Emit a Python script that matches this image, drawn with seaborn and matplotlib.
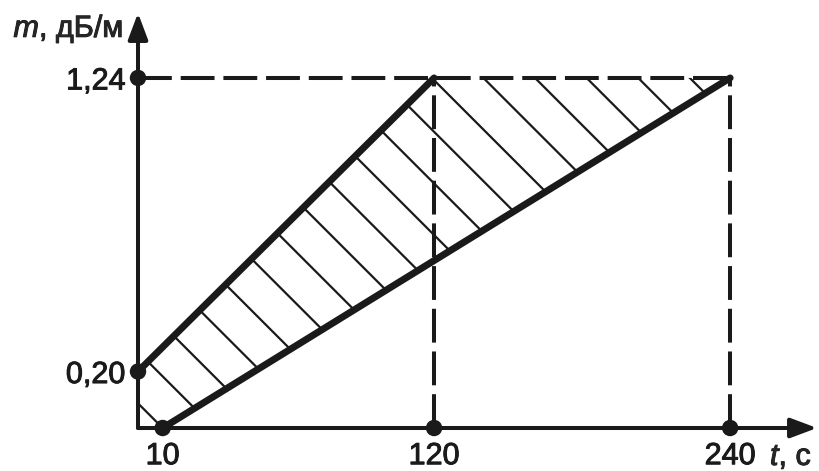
import numpy as np
import pandas as pd
import matplotlib
matplotlib.use("Agg")
import matplotlib.pyplot as plt
import matplotlib.patheffects as pe
from matplotlib.transforms import IdentityTransform
import seaborn as sns

# ---- data ----
t_upper = [0, 120]
m_upper = [0.20, 1.24]
t_lower = [10, 240]
m_lower = [0.0, 1.24]
t_dots = [0, 0, 10, 120, 240]
m_dots = [1.24, 0.20, 0.0, 0.0, 0.0]
t_guides = [120, 240]
m_level = 1.24
x_ticks = [10, 120, 240]
x_tick_labels = ["10", "120", "240"]
y_ticks = [0.20, 1.24]
y_tick_labels = ["0,20", "1,24"]
x_label = "$t$, с"
y_label = "$m$, дБ/м"

sns.set_theme(style="white")
plt.rcParams["font.family"] = ["Liberation Sans", "DejaVu Sans"]
plt.rcParams["mathtext.fontset"] = "custom"
plt.rcParams["mathtext.rm"] = "Liberation Sans"
plt.rcParams["mathtext.it"] = "Liberation Sans:italic"

W, H = 819, 471
fig = plt.figure(figsize=(W / 100, H / 100), dpi=100)
ax = fig.add_axes([138 / W, 43 / H, (817 - 138) / W, (428 - 13) / H])
ax.set_xlim(0, 275.2)
ax.set_ylim(0, 1.47)
for s in ax.spines.values():
    s.set_visible(False)

# dashed guide lines
dash = (0, (8.4, 2.2))
ax.plot([0, t_guides[-1]], [m_level, m_level], color="k", lw=2.9, ls=dash, clip_on=False)
for tg in t_guides:
    ax.plot([tg, tg], [0, m_level], color="k", lw=2.9, ls=dash, clip_on=False)

# hatched region
poly_t = [0, t_upper[0], t_upper[1], t_lower[1], t_lower[0]]
poly_m = [0, m_upper[0], m_upper[1], m_lower[1], m_lower[0]]
patch = ax.fill(poly_t, poly_m, facecolor="none", edgecolor="none")[0]
X0, Y0 = ax.transData.transform((t_lower[0], m_lower[0]))
c0 = X0 + Y0
spacing = 51.6
bb = ax.bbox
for k in range(-30, 31):
    c = c0 + k * spacing
    xs = np.array([bb.x0 - 500, bb.x1 + 500])
    ys = c - xs
    ln = ax.plot(xs, ys, color="k", lw=1.6, transform=IdentityTransform())[0]
    ln.set_clip_path(patch)

# thick boundary lines
df_lines = pd.DataFrame({
    "t": t_upper + t_lower,
    "m": m_upper + m_lower,
    "line": ["upper"] * 2 + ["lower"] * 2,
})
sns.lineplot(data=df_lines, x="t", y="m", units="line", estimator=None,
             color="k", lw=5, ax=ax, clip_on=False, sort=False)

# dots
sns.scatterplot(x=t_dots, y=m_dots, color="k", s=140, edgecolor="none",
                ax=ax, clip_on=False, zorder=5)

# axes arrows
arrow = dict(arrowstyle="-|>,head_length=16,head_width=6", lw=2.9, color="k",
             shrinkA=0, shrinkB=0, mutation_scale=1)
ax.annotate("", xy=(1, 0), xycoords="axes fraction", xytext=(0, 0), arrowprops=arrow)
ax.annotate("", xy=(0, 1), xycoords="axes fraction", xytext=(0, 0), arrowprops=arrow)

# ticks
ax.set_xticks(x_ticks, x_tick_labels)
ax.set_yticks(y_ticks, y_tick_labels)
ax.tick_params(axis="both", length=0, labelsize=22, colors="k")
ax.tick_params(axis="x", pad=9.5)
ax.tick_params(axis="y", pad=9)
ax.set_xlabel("")
ax.set_ylabel("")

bold = [pe.withStroke(linewidth=0.7, foreground="k")]
for lab in ax.get_xticklabels() + ax.get_yticklabels():
    lab.set_path_effects(bold)

fig.text(770 / W, (H - 465) / H, x_label, fontsize=22, ha="left", va="baseline",
         path_effects=bold)
fig.text(123 / W, (H - 37) / H, y_label, fontsize=22, ha="right", va="baseline",
         path_effects=bold)

fig.savefig("out.png", dpi=100)
